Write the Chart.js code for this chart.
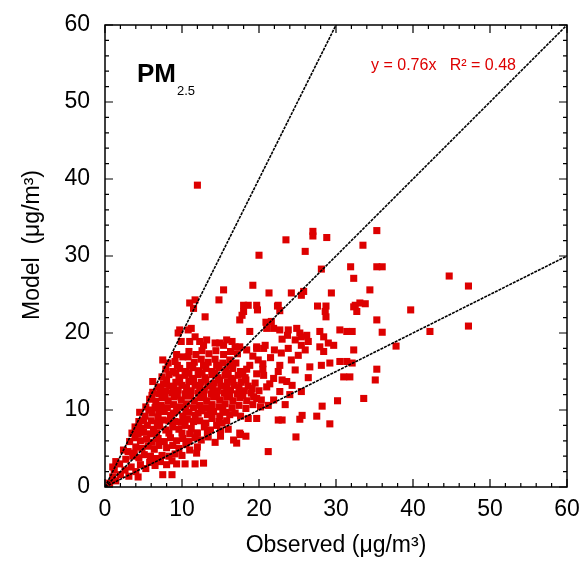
<!DOCTYPE html>
<html>
<head>
<meta charset="utf-8">
<script src="https://cdn.jsdelivr.net/npm/chart.js@4"></script>
<style>
html,body{margin:0;padding:0;background:#fff;}
#wrap{width:581px;height:561px;}
</style>
</head>
<body>
<div id="wrap"><canvas id="c" width="581" height="561"></canvas></div>
<script>
// ---- data: [observed, model] pairs (µg/m3) ----
const coreLow = [
 [0.6,0.5],[1.0,1.3],[1.4,0.8],[1.2,2.2],[2.0,1.6],[1.9,3.0],[2.6,2.2],[3.1,1.4],[3.4,2.6],[2.7,3.6],
 [4.0,2.0],[4.6,2.9],[3.6,4.0],[5.3,2.4],[5.8,3.2],[6.5,2.8],[7.2,3.3],[8.0,2.9],[8.7,3.4],[9.3,3.0],
 [10.4,3.0],[11.7,3.0],[12.8,3.1],[7.5,1.6],[8.7,1.6],[4.3,1.3],[1.0,2.6],[1.4,3.3],
 [3.0,4.6],[3.8,4.4],[4.4,3.8],[5.1,4.2],[5.9,4.0],[6.6,3.7],[7.4,4.1],[8.3,4.0],[9.1,4.3],[10.0,4.1],
 [11.0,4.8],[11.9,4.4],[2.4,4.8],[4.0,5.2],[4.8,5.0],[5.6,5.3],[6.4,4.9],[7.0,5.4],[8.0,5.1],[8.8,5.4],
 [9.6,5.0],[10.5,5.5],[12.0,5.2],
 [3.2,5.9],[3.9,6.4],[4.6,6.0],[5.4,6.2],[6.1,5.8],[6.9,6.3],[7.7,5.9],[8.5,6.4],[9.3,6.0],[10.1,6.3],
 [10.9,5.9],[11.7,6.4],[12.5,6.1],[13.4,6.5],[14.3,5.8],[15.0,6.6],[16.7,6.1],[17.1,5.7],[17.6,6.8],[18.3,6.6],
 [3.5,7.0],[4.3,6.9],[5.0,7.1],[5.9,6.9],
 [3.9,7.8],[4.7,7.6],[5.5,8.0],[6.3,7.5],[7.1,7.9],[7.9,7.4],[8.8,7.8],[9.6,7.5],[10.4,8.0],[11.2,7.6],
 [12.0,7.0],[12.9,7.8],[13.7,7.4],[14.5,8.0],[15.2,8.3],[16.0,7.5],[17.5,7.0],[11.9,7.0],
 [4.4,8.5],[6.0,8.6],[7.5,8.7],[9.1,8.5],[10.7,8.8],[12.3,8.6],[13.9,8.9],[15.8,8.6]
];
const coreMid = [
 [4.5,9.7],[5.2,9.2],[6.1,9.6],[6.9,9.1],[7.7,9.8],[8.5,9.3],[9.3,9.9],[10.1,9.2],[10.9,9.7],[11.7,9.3],
 [12.5,9.9],[13.3,9.4],[14.1,9.8],[14.9,9.2],[15.7,9.7],[16.9,9.6],[17.6,9.2],[18.6,8.9],[19.7,8.9],
 [5.3,10.4],[6.5,10.3],[7.3,10.6],[8.1,10.3],[8.9,10.7],[9.8,10.4],[10.6,10.8],[11.5,10.3],[12.3,10.6],
 [13.1,10.3],[13.9,10.7],[14.8,10.4],[15.6,10.8],[16.5,10.3],[17.4,10.6],[18.3,10.2],[19.2,10.7],[20.2,10.4],
 [5.8,11.4],[6.6,11.1],[7.4,11.6],[8.2,11.2],[9.0,11.7],[9.9,11.3],[10.7,11.8],[11.6,11.2],[12.4,11.6],
 [13.2,11.2],[14.1,11.7],[14.9,11.3],[15.8,11.7],[16.6,11.2],[17.5,11.6],[18.4,11.2],[19.3,11.7],[20.3,11.3],
 [6.2,12.3],[7.0,12.1],[7.9,12.5],[8.7,12.2],[9.5,12.6],[10.4,12.1],[11.2,12.5],[12.1,12.2],[12.9,12.6],
 [13.8,12.1],[14.6,12.5],[15.5,12.2],[16.3,12.6],[17.2,12.1],[18.1,12.5],[19.0,12.2],[20.0,12.5],
 [6.2,13.7],[6.9,13.0],[7.6,13.4],[8.4,13.1],[9.2,13.6],[10.0,13.2],[10.9,13.7],[11.7,13.2],[12.5,13.6],
 [13.4,13.1],[14.2,13.5],[15.1,13.1],[15.9,13.6],[16.8,13.2],[17.7,13.6],[18.6,13.1],[19.5,13.5],
 [7.4,14.3],[8.3,14.6],[9.6,14.2],[10.4,14.5],[11.3,14.1],[12.1,14.6],[13.0,14.2],[13.9,14.6],[14.7,14.2],
 [15.6,14.5],[16.4,14.1],[17.3,14.5],[18.2,14.2],[19.7,14.7],[20.6,14.5]
];
const coreFill = [
 [5.7,10.0],[7.0,9.9],[8.9,9.6],[10.5,10.0],[12.1,9.6],[13.7,10.1],[15.3,10.0],[16.2,9.4],
 [6.1,11.9],[7.8,11.9],[9.4,11.9],[11.1,11.9],[12.8,11.9],[14.5,11.9],[16.2,11.9],[17.9,11.9],[19.7,11.5],
 [7.2,12.8],[8.9,12.9],[10.6,12.9],[12.3,12.9],[14.0,12.8],[15.8,12.9],[17.4,12.9],[19.1,12.8],
 [8.0,13.9],[9.7,13.9],[11.5,13.9],[13.1,13.9],[14.9,13.9],[16.6,13.9],[18.3,13.9],
 [9.2,14.8],[10.9,14.8],[12.6,14.8],[14.3,14.8],[16.0,14.8],[17.9,14.7],
 [9.4,15.8],[11.0,15.8],[12.8,15.8],[14.5,15.8],[16.2,15.8],
 [5.0,8.6],[6.8,8.3],[8.3,8.6],[9.9,8.4],[11.5,8.5],[13.1,8.3],[14.8,8.5],
 [4.3,7.3],[6.7,7.0],[8.3,7.0],[10.0,7.0],[11.0,6.9],[13.3,7.0],[15.0,7.3]
];
const coreHigh = [
 [7.9,15.3],[8.8,15.0],[9.7,15.4],[10.5,15.0],[11.4,15.5],[12.2,15.1],[13.1,15.4],[13.9,15.0],[14.8,15.5],
 [15.7,15.1],[16.6,15.4],[17.6,15.0],[18.4,15.3],[18.8,15.8],[19.9,16.5],[20.5,15.3],[19.2,17.0],
 [7.5,16.5],[8.2,16.1],[9.1,16.3],[10.1,16.9],[10.8,16.9],[11.6,16.2],[12.5,16.6],[13.4,16.2],[14.3,16.6],
 [15.3,16.1],[16.2,16.5],[17.0,16.1],
 [9.3,17.2],[10.9,17.6],[11.8,17.2],[12.6,17.7],[13.5,17.3],[14.4,17.7],[15.4,17.2],[16.3,17.6],[17.2,17.3],
 [18.4,17.8],[19.7,18.0],[20.6,18.0],[20.8,18.4],[19.7,18.2],
 [9.9,18.9],[11.0,18.9],[11.7,19.5],[12.3,18.9],[12.8,18.4],[13.2,19.1],[14.3,18.7],[14.9,18.7],[15.4,18.4],
 [15.8,19.1],[16.5,18.9],[16.9,18.2],[17.5,18.2],
 [9.5,20.0],[9.7,20.4],[10.8,20.4],[11.2,20.6],[18.8,20.2],[21.0,20.6],[21.6,21.5],[20.9,21.4],[17.8,22.3],
 [17.5,21.7],[13.0,22.1],[11.0,23.9],[11.7,24.3],[11.5,23.2],[14.8,24.3],[15.4,25.6],[18.0,23.6],[18.6,23.6],
 [19.7,23.6],[18.0,22.8],[19.8,23.0],[19.2,26.2],[21.3,25.2]
];
const rightCluster = [
 [21.9,20.6],[22.7,20.4],[22.4,23.5],[22.7,22.9],[23.0,19.2],[23.8,20.4],[24.2,25.2],[24.9,20.6],[25.3,20.0],
 [25.5,19.5],[25.5,24.9],[25.8,25.4],[26.2,19.7],[24.7,19.1],[25.5,18.4],[26.0,17.8],[25.1,17.1],[26.4,18.9],
 [27.9,20.2],[28.4,19.5],[29.0,18.7],[27.9,18.2],[28.4,17.6],[29.7,18.4],[30.5,20.4],[31.4,20.2],[32.1,20.2],
 [32.3,17.8],[27.6,23.5],[28.7,23.5],[28.6,22.8],[28.7,22.1],[29.4,25.2],[32.3,23.4],[33.1,23.9],[33.8,23.8],
 [32.7,22.8],[32.5,23.6],[34.4,25.6],[35.3,21.7],[36.0,20.1],[22.5,23.6],[23.7,19.7],[22.0,17.8],[23.8,18.0],
 [22.9,17.4],[21.5,16.8],[20.5,16.0],
 [22.7,15.8],[24.2,16.5],[24.7,15.2],[26.6,15.6],[28.1,15.8],[29.2,16.1],[30.5,16.3],[31.4,16.3],[32.1,16.1],
 [31.0,14.3],[31.8,14.3],[22.5,15.0],[23.0,13.9],[23.6,13.7],[22.7,12.4],[21.9,14.1],[21.0,13.0],[21.4,13.4],
 [24.0,12.0],[25.5,12.4],[26.4,14.2],[24.3,13.2],[35.3,15.3],[35.1,13.9],[33.6,11.5],[30.2,11.2],[28.2,10.5],
 [27.5,9.2],[29.2,8.2],[25.6,9.3],[25.3,8.8],[23.0,8.7],[24.8,6.5],[21.2,4.6],[23.4,10.7],[22.5,8.7],
 [21.2,10.6],[21.9,11.3],[37.8,18.3],[42.2,20.2],[39.7,23.0],[47.2,20.9]
];
const outliers = [
 [12.0,39.2],[20.0,30.1],[23.5,32.1],[27.0,33.2],[27.0,32.6],[28.8,32.4],[35.3,33.3],[26.0,30.6],[33.5,31.4],
 [31.9,28.6],[28.1,28.3],[32.3,27.1],[35.3,28.6],[36.0,28.6],[44.7,27.4],[47.2,26.1]
];
const refSlopes = [2, 1, 0.5];
const axisMin = 0, axisMax = 60, majorStep = 10, minorStep = 2;
const seriesLabel = 'PM2.5';
const fitText = 'y = 0.76x   R\u00b2 = 0.48';

const RED = '#dd0000';
const FONT = "'Liberation Sans', Arial, Helvetica, sans-serif";

const allPairs = [].concat(coreLow, coreMid, coreFill, coreHigh, rightCluster, outliers);
const scatterData = allPairs.map(p => ({x: p[0], y: p[1]}));

const lineSets = refSlopes.map(s => ({
  type: 'line',
  data: [{x: axisMin, y: axisMin * s}, {x: Math.min(axisMax, axisMax / s), y: Math.min(axisMax, axisMax / s) * s}],
  borderColor: '#000',
  borderWidth: 1.6,
  borderDash: [3, 1],
  pointRadius: 0,
  fill: false,
  showLine: true,
  order: 0
}));

const framePlugin = {
  id: 'frame',
  afterDraw(chart) {
    const {ctx, chartArea: a, scales: {x, y}} = chart;
    ctx.save();
    ctx.strokeStyle = '#000';
    ctx.lineWidth = 1.5;
    ctx.strokeRect(a.left, a.top, a.right - a.left, a.bottom - a.top);
    ctx.lineWidth = 1.2;
    ctx.beginPath();
    for (let v = axisMin; v <= axisMax; v += minorStep) {
      const L = (v % majorStep === 0) ? 8 : 4;
      const px = x.getPixelForValue(v), py = y.getPixelForValue(v);
      ctx.moveTo(px, a.bottom); ctx.lineTo(px, a.bottom - L);
      ctx.moveTo(px, a.top); ctx.lineTo(px, a.top + L);
      ctx.moveTo(a.left, py); ctx.lineTo(a.left + L, py);
      ctx.moveTo(a.right, py); ctx.lineTo(a.right - L, py);
    }
    ctx.stroke();
    // PM2.5 label
    ctx.fillStyle = '#000';
    ctx.textBaseline = 'alphabetic';
    ctx.textAlign = 'left';
    ctx.font = "bold 26px " + FONT;
    ctx.fillText('PM', 137, 82);
    const w = ctx.measureText('PM').width;
    ctx.font = "13px " + FONT;
    ctx.fillText('2.5', 137 + w + 1, 95);
    // fit annotation
    ctx.fillStyle = RED;
    ctx.font = "16px " + FONT;
    ctx.fillText(fitText, 371, 70);
    // y title
    ctx.fillStyle = '#000';
    ctx.font = "23px " + FONT;
    ctx.translate(33, 245);
    ctx.rotate(-Math.PI / 2);
    ctx.textAlign = 'center';
    ctx.textBaseline = 'middle';
    ctx.fillText('Model  (\u03bcg/m\u00b3)', 0, 0);
    ctx.restore();
  }
};

new Chart(document.getElementById('c'), {
  type: 'scatter',
  data: {
    datasets: [
      ...lineSets,
      {
        label: seriesLabel,
        data: scatterData,
        pointStyle: 'rect',
        pointRadius: 5,
        pointBorderWidth: 0,
        backgroundColor: RED,
        borderColor: RED,
        order: 1
      }
    ]
  },
  options: {
    responsive: false,
    animation: false,
    events: [],
    layout: {padding: {left: 0, top: 25, right: 14, bottom: 0}},
    plugins: {legend: {display: false}, tooltip: {enabled: false}},
    scales: {
      x: {
        type: 'linear', min: axisMin, max: axisMax,
        grid: {display: false, drawTicks: false},
        border: {display: false},
        ticks: {stepSize: majorStep, padding: 9, color: '#000', font: {family: FONT, size: 23}},
        title: {display: true, text: 'Observed (\u03bcg/m\u00b3)', color: '#000', font: {family: FONT, size: 23}, padding: {top: 0, bottom: 2}},
        afterFit(s) { s.height = 74; s.paddingLeft = 0; s.paddingRight = 0; }
      },
      y: {
        type: 'linear', min: axisMin, max: axisMax,
        grid: {display: false, drawTicks: false},
        border: {display: false},
        ticks: {stepSize: majorStep, padding: 15, color: '#000', font: {family: FONT, size: 23}},
        afterFit(s) { s.width = 105; s.paddingTop = 0; s.paddingBottom = 0; }
      }
    }
  },
  plugins: [framePlugin]
});
</script>
</body>
</html>
